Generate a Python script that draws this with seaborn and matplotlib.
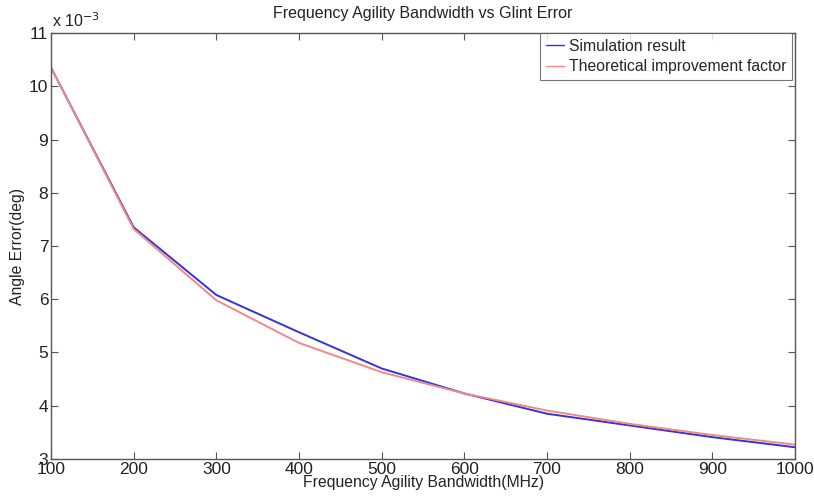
import numpy as np
import pandas as pd
import seaborn as sns
import matplotlib
matplotlib.use('Agg')
import matplotlib.pyplot as plt
from matplotlib.ticker import FuncFormatter

# data (angle error in deg)
bandwidth = [100, 200, 300, 400, 500, 600, 700, 800, 900, 1000]
simulation = [10.35e-3, 7.35e-3, 6.08e-3, 5.38e-3, 4.70e-3, 4.23e-3, 3.85e-3, 3.63e-3, 3.41e-3, 3.22e-3]
theoretical = [10.35e-3, 7.32e-3, 5.98e-3, 5.18e-3, 4.63e-3, 4.23e-3, 3.91e-3, 3.66e-3, 3.45e-3, 3.27e-3]
series_names = ['Simulation result', 'Theoretical improvement factor']

df = pd.concat([
    pd.DataFrame({'bw': bandwidth, 'err': simulation, 'series': series_names[0]}),
    pd.DataFrame({'bw': bandwidth, 'err': theoretical, 'series': series_names[1]}),
])

sns.set_theme(style="white")
plt.rcParams['font.family'] = ['Liberation Sans', 'DejaVu Sans']

fig = plt.figure(figsize=(8.14, 4.97), dpi=100)
ax = fig.add_axes([0.0627, 0.0765, 0.914, 0.857])

sns.lineplot(data=df, x='bw', y='err', hue='series',
             palette=['#3434d0', '#f08a8a'], linewidth=1.4, ax=ax)

ax.set_xlim(100, 1000)
ax.set_ylim(3e-3, 11e-3)
ax.set_xticks(bandwidth)
ax.set_yticks(np.arange(3, 12) * 1e-3)
ax.yaxis.set_major_formatter(FuncFormatter(lambda v, p: f'{v * 1e3:.0f}'))

# matlab-like box and inward ticks
for s in ax.spines.values():
    s.set_color('#555555')
    s.set_linewidth(1.0)
ax.tick_params(axis='both', direction='in', length=5, width=0.8, color='#555555',
               labelsize=12.5, labelcolor='#222222', pad=2, top=True, right=True,
               bottom=True, left=True, labeltop=False, labelright=False)

ax.set_title('Frequency Agility Bandwidth vs Glint Error', fontsize=11.5, pad=11, color='#222222')
ax.set_xlabel('Frequency Agility Bandwidth(MHz)', fontsize=11.3, labelpad=-1, color='#222222')
ax.set_ylabel('Angle Error(deg)', fontsize=11.3, labelpad=3, color='#222222')
ax.text(0.001, 1.008, 'x 10$^{-3}$', transform=ax.transAxes, fontsize=11.5,
        va='bottom', ha='left', color='#222222')

leg = ax.legend(loc='upper right', bbox_to_anchor=(0.996, 1.0), fontsize=11.3,
                frameon=True, fancybox=False, handlelength=1.2, handletextpad=0.3,
                borderpad=0.35, labelspacing=0.35, borderaxespad=0.0)
leg.get_frame().set_edgecolor('#555555')
leg.get_frame().set_linewidth(0.8)
for line in leg.get_lines():
    line.set_linewidth(1.0)

fig.savefig('out.png', dpi=100, facecolor='white')
plt.close()
